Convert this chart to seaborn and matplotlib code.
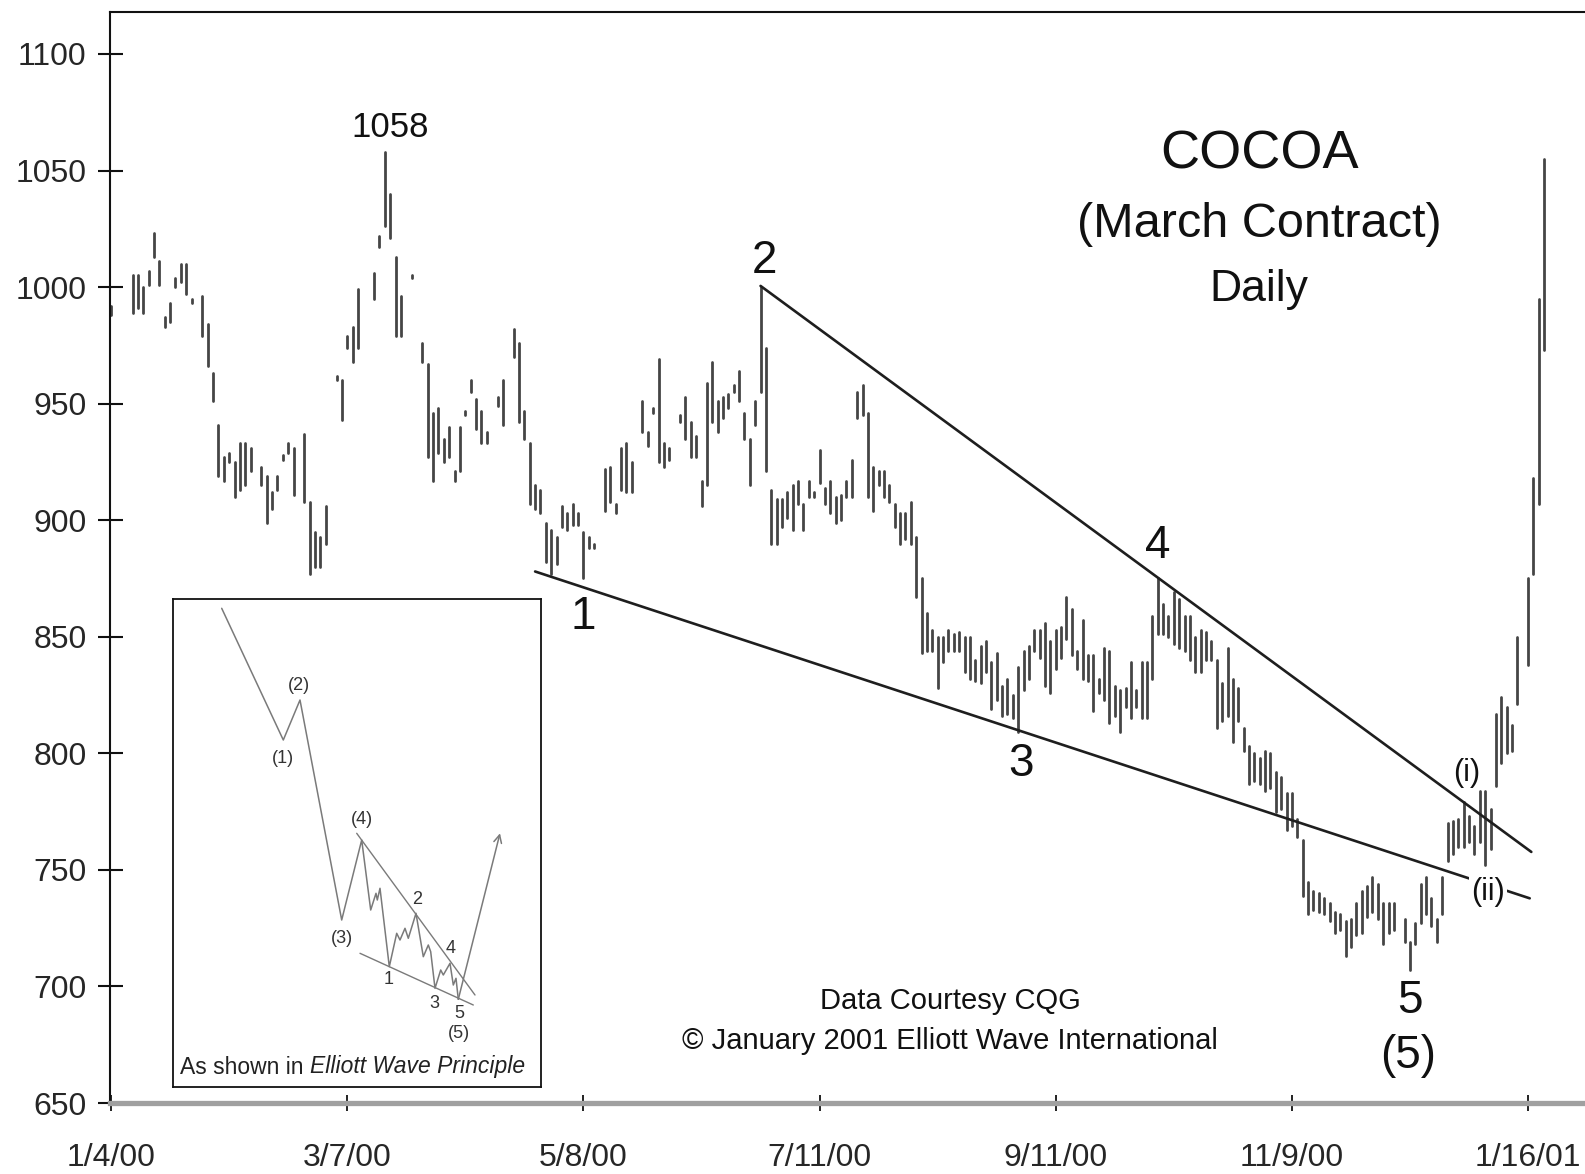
import numpy as np
import pandas as pd
import matplotlib
matplotlib.use("Agg")
import matplotlib.pyplot as plt
import seaborn as sns

# ---- daily high/low bars (trading-day index, high, low) ----
days = [0, 4, 5, 6, 7, 8, 9, 10, 11, 12, 13, 14, 15, 17, 18, 19, 20, 21, 22, 23,
        24, 25, 26, 28, 29, 30, 31, 32, 33, 34, 36, 37, 38, 39, 40, 42, 43, 44, 45, 46,
        49, 50, 51, 52, 53, 54, 56, 58, 59, 60, 61, 62, 63, 64, 65, 66, 67, 68, 69, 70,
        72, 73, 75, 76, 77, 78, 79, 80, 81, 82, 83, 84, 85, 86, 87, 88, 89, 90, 92, 93,
        94, 95, 96, 97, 99, 100, 101, 102, 103, 104, 106, 107, 108, 109, 110, 111, 112, 113, 114, 115,
        116, 117, 118, 119, 120, 121, 122, 123, 124, 125, 126, 127, 128, 129, 130, 131, 132, 133, 134, 135,
        136, 137, 138, 139, 140, 141, 142, 143, 144, 145, 146, 147, 148, 149, 150, 151, 152, 153, 154, 155,
        156, 157, 158, 159, 160, 161, 162, 163, 164, 165, 166, 167, 168, 169, 170, 171, 172, 173, 174, 175,
        176, 177, 178, 179, 180, 181, 182, 183, 184, 185, 186, 187, 188, 189, 190, 191, 192, 193, 194, 195,
        196, 197, 198, 199, 200, 201, 202, 203, 204, 205, 206, 207, 208, 209, 210, 211, 212, 213, 214, 215,
        216, 217, 218, 219, 220, 221, 222, 223, 224, 225, 226, 227, 228, 229, 230, 231, 232, 233, 234, 235,
        236, 237, 238, 239, 241, 242, 243, 244, 245, 246, 247, 248, 249, 250, 251, 252, 253, 254, 255, 256,
        257, 258, 259, 260, 261, 262, 264, 265, 266, 267]
highs = [992, 1005, 1005, 1000, 1007, 1023, 1011, 987, 993, 1004, 1010, 1010, 995, 996, 984, 963, 941, 927, 929, 925,
         933, 933, 931, 923, 919, 912, 919, 928, 933, 931, 937, 908, 895, 893, 906, 962, 960, 979, 983, 999,
         1006, 1022, 1058, 1040, 1013, 996, 1005, 976, 967, 946, 948, 935, 940, 921, 940, 947, 960, 952, 947, 938,
         953, 960, 982, 976, 947, 933, 915, 913, 899, 896, 893, 906, 903, 907, 903, 895, 893, 890, 922, 923,
         907, 931, 933, 925, 951, 938, 948, 969, 933, 931, 945, 953, 942, 936, 917, 959, 968, 951, 953, 954,
         958, 964, 946, 935, 951, 1000, 974, 913, 909, 909, 912, 915, 917, 907, 917, 912, 930, 914, 917, 910,
         911, 917, 926, 955, 958, 946, 923, 921, 921, 915, 907, 903, 903, 908, 893, 875, 860, 853, 850, 850,
         853, 851, 852, 850, 850, 840, 846, 848, 839, 843, 829, 832, 825, 837, 844, 846, 853, 853, 856, 848,
         853, 854, 867, 862, 844, 857, 842, 842, 832, 845, 844, 829, 827, 828, 839, 827, 839, 839, 859, 875,
         864, 859, 869, 866, 859, 859, 850, 853, 852, 848, 840, 830, 845, 832, 828, 811, 803, 800, 798, 801,
         800, 792, 790, 783, 783, 772, 763, 745, 741, 740, 738, 736, 732, 731, 728, 729, 736, 741, 743, 747,
         744, 736, 736, 736, 729, 719, 727, 744, 747, 738, 729, 747, 770, 771, 772, 779, 773, 769, 784, 784,
         776, 817, 824, 820, 812, 850, 875, 918, 995, 1055]
lows = [988, 989, 991, 989, 1001, 1013, 1001, 983, 985, 1000, 1002, 997, 993, 979, 966, 951, 919, 917, 925, 910,
        913, 915, 921, 915, 899, 905, 913, 926, 929, 911, 908, 877, 880, 880, 890, 960, 943, 974, 968, 974,
        995, 1017, 1026, 1021, 979, 979, 1004, 968, 927, 917, 929, 925, 927, 917, 921, 945, 955, 939, 933, 933,
        949, 941, 970, 942, 935, 907, 905, 903, 882, 877, 881, 897, 896, 898, 898, 875, 888, 888, 904, 908,
        903, 913, 912, 912, 938, 932, 946, 925, 923, 926, 942, 935, 927, 927, 906, 915, 942, 938, 944, 948,
        955, 951, 935, 915, 941, 955, 921, 890, 890, 897, 901, 896, 907, 896, 910, 910, 916, 907, 903, 899,
        900, 910, 910, 944, 945, 910, 904, 915, 910, 908, 897, 890, 892, 890, 867, 843, 844, 844, 828, 839,
        844, 844, 844, 835, 832, 831, 830, 835, 819, 823, 816, 817, 815, 809, 827, 832, 844, 841, 829, 826,
        836, 841, 849, 842, 836, 832, 831, 818, 826, 823, 813, 816, 809, 820, 815, 820, 815, 815, 832, 851,
        851, 850, 847, 845, 844, 840, 835, 835, 840, 840, 811, 814, 816, 805, 814, 801, 787, 788, 787, 784,
        785, 775, 776, 767, 769, 764, 739, 731, 733, 732, 731, 728, 723, 724, 713, 717, 722, 723, 730, 732,
        729, 718, 723, 724, 719, 707, 718, 727, 731, 726, 719, 731, 754, 757, 760, 760, 762, 757, 762, 752,
        759, 786, 796, 800, 801, 821, 838, 877, 907, 973]

# ---- axis ticks ----
y_ticks = [650, 700, 750, 800, 850, 900, 950, 1000, 1050, 1100]
x_tick_days = [0, 44, 88, 132, 176, 220, 264]
x_tick_labels = ["1/4/00", "3/7/00", "5/8/00", "7/11/00", "9/11/00", "11/9/00", "1/16/01"]

# ---- wedge boundary lines (day, price) ----
upper_line_days = [121, 264.6]
upper_line_prices = [1000.5, 757.7]
lower_line_days = [79, 264.3]
lower_line_prices = [878, 737.8]

# ---- wave labels ----
wave_labels = ["1", "2", "3", "4", "5", "(5)"]
wave_days = [88, 121.7, 169.5, 195, 242, 241.6]
wave_prices = [858.6, 1011.4, 795.5, 889, 693.8, 670]
sub_labels = ["(i)", "(ii)"]
sub_days = [252.6, 256.5]
sub_prices = [791.6, 740.3]
peak_label, peak_day, peak_price = "1058", 52, 1068.5

# ---- textbook diagram (inset, pixel-like units) ----
diagram_x = [48.7, 110.3, 127, 168.7, 188.7, 197.7, 203, 204.3, 207, 216.3, 223.7, 227, 232,
             235.3, 243, 250.3, 255.3, 257.7, 262, 267.7, 270.3, 277, 280.3, 283, 285.3]
diagram_y = [9.3, 141, 101, 321, 241, 311, 294.3, 301, 289.3, 367.7, 334.3, 341, 329.3,
             339.3, 314.3, 357.7, 346, 352.7, 389.3, 371, 376, 364.3, 386, 379.3, 400.3]
diagram_arrow_end = (327, 234.3)
diagram_upper = ([183.7, 302], [234.3, 396])
diagram_lower = ([187, 300.3], [354.3, 406])
diagram_labels = ["(2)", "(1)", "(4)", "(3)", "2", "1", "3", "4", "5", "(5)"]
diagram_label_x = [126.3, 110.3, 188.7, 168.7, 243.7, 215.7, 261, 277.7, 286, 286.3]
diagram_label_y = [87, 159.3, 220.3, 339.3, 301, 381, 404.3, 349.3, 414.3, 435]

sns.set_theme(style="white")
plt.rcParams["font.family"] = ["Liberation Sans", "DejaVu Sans"]

W, H = 1585, 1174
fig = plt.figure(figsize=(W / 100, H / 100), dpi=100)
ax = fig.add_axes([110 / W, 71 / H, 1 - 110 / W, (1103 - 12) / H])

bars = pd.DataFrame({
    "day": np.repeat(days, 2),
    "price": np.column_stack([highs, lows]).ravel(),
    "bar": np.repeat(np.arange(len(days)), 2),
})
sns.lineplot(data=bars, x="day", y="price", units="bar", estimator=None,
             sort=False, color="#454545", lw=2.0, legend=False, ax=ax)

sns.lineplot(x=upper_line_days, y=upper_line_prices, color="#1e1e1e", lw=1.9, ax=ax)
sns.lineplot(x=lower_line_days, y=lower_line_prices, color="#1e1e1e", lw=1.9, ax=ax)

ax.set_xlim(-0.2, 274.6)
ax.set_ylim(650, 1118)
ax.set_xlabel("")
ax.set_ylabel("")
ax.set_yticks(y_ticks)
ax.set_yticklabels([str(v) for v in y_ticks])
ax.set_xticks(x_tick_days)
ax.set_xticklabels(x_tick_labels)
ax.tick_params(axis="y", direction="inout", length=18, width=1.5, color="#111",
               labelsize=23, pad=8, left=True)
ax.tick_params(axis="x", direction="inout", length=12, width=1.3, color="#111",
               labelsize=23, pad=22.5, bottom=True)
for s in ["left", "top"]:
    ax.spines[s].set_color("#111")
    ax.spines[s].set_linewidth(1.5)
ax.spines["right"].set_visible(False)
ax.spines["bottom"].set_color("#a0a0a0")
ax.spines["bottom"].set_linewidth(3.8)

# annotations
ax.text(peak_day, peak_price, peak_label, fontsize=25, ha="center", va="center", color="#111")
for lab, d, p in zip(wave_labels, wave_days, wave_prices):
    ax.text(d, p, lab, fontsize=33, ha="center", va="center", color="#111")
for lab, d, p in zip(sub_labels, sub_days, sub_prices):
    ax.text(d, p, lab, fontsize=22, ha="center", va="center", color="#111",
            bbox=dict(facecolor="white", edgecolor="none", pad=1.5))

ax.text(213.9, 1057, "COCOA", fontsize=39, ha="center", va="center", color="#111")
ax.text(213.9, 1027, "(March Contract)", fontsize=35, ha="center", va="center", color="#111")
ax.text(213.9, 999, "Daily", fontsize=32, ha="center", va="center", color="#111")
ax.text(156.3, 693.8, "Data Courtesy CQG", fontsize=21, ha="center", va="center", color="#111")
ax.text(156.3, 676.6, "\u00a9 January 2001 Elliott Wave International", fontsize=21,
        ha="center", va="center", color="#111")

# inset: textbook ending-diagonal diagram
ax_in = fig.add_axes([173 / W, (H - 1087) / H, 368 / W, 488 / H])
ax_in.set_facecolor("white")
ax_in.set_xlim(0, 368)
ax_in.set_ylim(488, 0)
ax_in.set_xticks([])
ax_in.set_yticks([])
for s in ax_in.spines.values():
    s.set_color("#111")
    s.set_linewidth(1.3)
gray = "#7a7a7a"
sns.lineplot(x=diagram_x, y=diagram_y, sort=False, color=gray, lw=1.1, ax=ax_in)
sns.lineplot(x=diagram_upper[0], y=diagram_upper[1], color=gray, lw=1.0, ax=ax_in)
sns.lineplot(x=diagram_lower[0], y=diagram_lower[1], color=gray, lw=1.0, ax=ax_in)
ax_in.annotate("", xy=diagram_arrow_end, xytext=(diagram_x[-1], diagram_y[-1]),
               arrowprops=dict(arrowstyle="->", color=gray, lw=1.1, mutation_scale=14,
                               shrinkA=0, shrinkB=0))
for lab, x, y in zip(diagram_labels, diagram_label_x, diagram_label_y):
    ax_in.text(x, y, lab, fontsize=13, ha="center", va="center", color="#333")
ax_in.text(130, 468, "As shown in", fontsize=16.5, ha="right", va="center", color="#222")
ax_in.text(137, 468, "Elliott Wave Principle", fontsize=16.5, style="italic",
           ha="left", va="center", color="#222")
ax_in.set_xlabel("")
ax_in.set_ylabel("")

fig.savefig("out.png", dpi=100, facecolor="white")
